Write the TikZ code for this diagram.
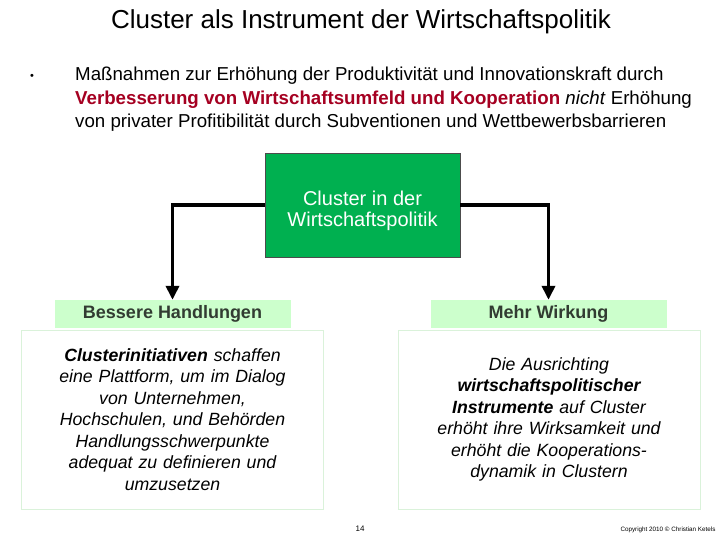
\documentclass[tikz,border=0pt]{standalone}
\usepackage{fontspec}
\setmainfont{Liberation Sans}
\usetikzlibrary{arrows.meta}

\definecolor{clgreen}{RGB}{0,176,80}
\definecolor{headgreen}{RGB}{204,255,204}
\definecolor{boxline}{RGB}{218,242,218}
\definecolor{headtext}{RGB}{50,60,50}
\definecolor{darkred}{RGB}{165,0,33}

\begin{document}
\begin{tikzpicture}[x=1pt, y=-1pt,
      mainbox/.style={rectangle, draw=black!70, fill=clgreen, minimum width=195pt, minimum height=104pt},
      maintext/.style={text=white, align=center, font=\fontsize{20}{21}\selectfont},
      header/.style={rectangle, fill=headgreen, text=headtext, minimum width=236pt,
        minimum height=28pt, font=\fontsize{18}{18}\selectfont\bfseries},
      textbox/.style={rectangle, draw=boxline, fill=white, align=center, text width=295pt,
        minimum width=301pt, minimum height=179pt, font=\fontsize{17.7}{21.5}\selectfont\itshape},
      link/.style={line width=3.5pt, -{Triangle[length=14pt, width=13pt]}}]

      \useasboundingbox (0,0) rectangle (720,540);

      \node (title) at (361,22) {\fontsize{26}{28}\selectfont Cluster als Instrument der Wirtschaftspolitik};

      \node (bullet) at (32,77) {\fontsize{11}{14}\selectfont\textbullet};
      \node[anchor=north west, inner sep=0pt, align=left,
        font=\fontsize{18.7}{23.3}\selectfont] (intro) at (75,67)
        {Maßnahmen zur Erhöhung der Produktivität und Innovationskraft durch\\
        \textcolor{darkred}{\bfseries Verbesserung von Wirtschaftsumfeld und Kooperation} \textit{nicht} Erhöhung\\
        von privater Profitibilität durch Subventionen und Wettbewerbsbarrieren};

      \node[mainbox] (cluster) at (362.5,205) {};
      \node[maintext] (clustertext) at (362.5,210.5) {Cluster in der\\Wirtschaftspolitik};

      \node[header] (besser) at (172.5,314) {Bessere Handlungen};
      \node[header] (mehr) at (548.5,314) {Mehr Wirkung};

      \node[textbox] (links) at (172.5,419.5) {{\bfseries Clusterinitiativen} schaffen\\
        eine Plattform, um im Dialog\\von Unternehmen,\\Hochschulen, und Behörden\\Handlungsschwerpunkte\\adequat zu definieren und\\umzusetzen};
      \node[textbox] (rechts) at (549,419.5) {Die Ausrichting\\{\bfseries wirtschaftspolitischer}\\{\bfseries Instrumente} auf Cluster\\erhöht ihre Wirksamkeit und\\erhöht die Kooperations-\\dynamik in Clustern};

      % Arrows
      \draw[link] (cluster.west) -| (besser.north);
      \draw[link] (cluster.east) -| (mehr.north);

      % Footer
      \node (seite) at (360,529) {\fontsize{8}{10}\selectfont 14};
      \node (copy) at (668,530) {\fontsize{6.3}{8}\selectfont Copyright 2010 © Christian Ketels};
    \end{tikzpicture}
\end{document}
